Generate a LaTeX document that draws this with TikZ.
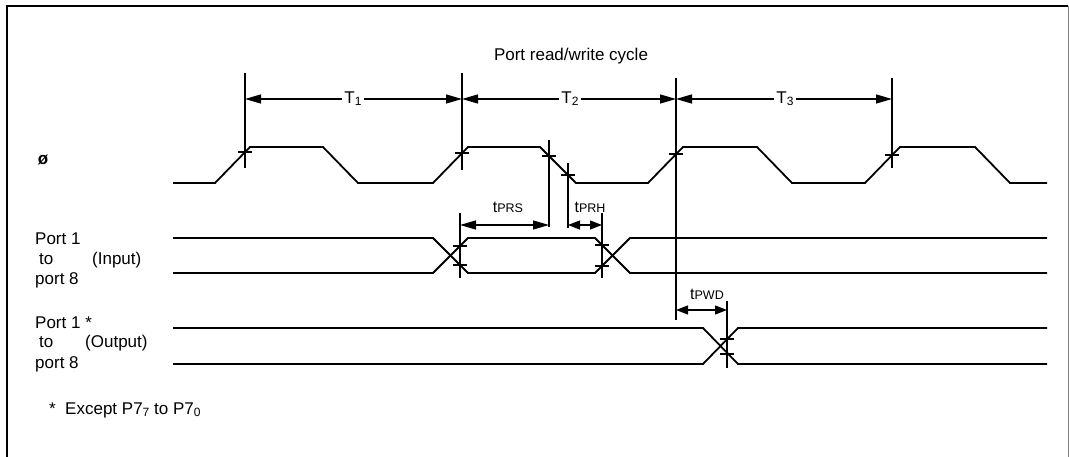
\documentclass[tikz,border=0pt]{standalone}
\usepackage{fontspec}
\setmainfont{Liberation Sans}
\usetikzlibrary{arrows.meta}
\newcommand\subsm[1]{\raisebox{-2pt}{\fontsize{12}{12}\selectfont #1}}
\newcommand\tsub[1]{t{\fontsize{12.5}{12}\selectfont #1}}
\begin{document}
\begin{tikzpicture}[x=1pt,y=-1pt,
  sig/.style={line width=1.8pt, line join=miter},
  vline/.style={line width=1.3pt},
  tickm/.style={line width=1.3pt},
  dim/.style={line width=1.3pt, {Triangle[length=16pt,width=9pt]}-{Triangle[length=16pt,width=9pt]}},
  dims/.style={line width=1.3pt, {Triangle[length=12pt,width=9pt]}-{Triangle[length=12pt,width=9pt]}},
  lbl/.style={font=\fontsize{17}{20}\selectfont, inner sep=0pt},
  tl/.style={font=\fontsize{16}{20}\selectfont, inner sep=0pt},
  tlab/.style={font=\fontsize{17}{20}\selectfont, fill=white, inner xsep=2pt, inner ysep=1pt}
  ]
\useasboundingbox (0,0) rectangle (1069,457);
% frame
\draw[line width=2.6pt] (7,460) -- (7,6) -- (1068,6);
\draw[gray, line width=1pt] (1068,6) -- (1068,460);

% title
\node[lbl] (title) at (571,56) {Port read/write cycle};

% clock
\draw[sig] (173,183) -- (215,183) -- (250,147) -- (323,147) -- (358,183)
  -- (433,183) -- (468,147) -- (540,147) -- (576,183) -- (648,183)
  -- (683,147) -- (757,147) -- (792,183) -- (865,183) -- (900,147)
  -- (975,147) -- (1010,183) -- (1047,183);

% input data
\draw[sig] (173,238) -- (433,238) -- (468,273) -- (595,273) -- (630,238) -- (1047,238);
\draw[sig] (173,273) -- (433,273) -- (468,238) -- (595,238) -- (630,273) -- (1047,273);

% output data
\draw[sig] (173,328) -- (703,328) -- (738,364) -- (1047,364);
\draw[sig] (173,364) -- (703,364) -- (738,328) -- (1047,328);

% vertical reference lines
\coordinate (v1t) at (245,73);  \coordinate (v1b) at (245,168);
\coordinate (v2t) at (462,73);  \coordinate (v2b) at (462,170);
\coordinate (v3t) at (676,78);  \coordinate (v3b) at (676,320);
\coordinate (v4t) at (892,78);  \coordinate (v4b) at (892,168);
\coordinate (v5t) at (549,140); \coordinate (v5b) at (549,227);
\coordinate (v6t) at (568,163); \coordinate (v6b) at (568,228);
\coordinate (v7t) at (460,213); \coordinate (v7b) at (460,278);
\coordinate (v8t) at (602,213); \coordinate (v8b) at (602,278);
\coordinate (v9t) at (727,301); \coordinate (v9b) at (727,368);
\foreach \i in {1,...,9} {\draw[vline] (v\i t) -- (v\i b);}

% cross ticks
\foreach \x/\y in {245/152, 462/153, 549/156, 568/175, 676/154, 892/155,
                   460/246, 460/265, 602/245, 602/266, 727/339, 727/354}
  {\draw[tickm] (\x-7,\y) -- (\x+7,\y);}

% T dimension arrows
\coordinate (a1) at (245,99); \coordinate (a2) at (462,99);
\coordinate (a3) at (676,99); \coordinate (a4) at (892,99);
\draw[dim] (a1) -- (a2);
\draw[dim] (a2) -- (a3);
\draw[dim] (a3) -- (a4);
\node[tlab] (T1) at (353,99) {T\subsm{1}};
\node[tlab] (T2) at (570,99) {T\subsm{2}};
\node[tlab] (T3) at (785,99) {T\subsm{3}};

% tPRS, tPRH, tPWD
\coordinate (p1) at (460,225); \coordinate (p2) at (549,225);
\coordinate (h1) at (568,225); \coordinate (h2) at (602,225);
\coordinate (w1) at (676,310); \coordinate (w2) at (727,310);
\draw[dim] (p1) -- (p2);
\draw[dims] (h1) -- (h2);
\draw[dims] (w1) -- (w2);
\node[tl] (tprs) at (508,207) {\tsub{PRS}};
\node[tl] (tprh) at (590,207) {\tsub{PRH}};
\node[tl] (tpwd) at (707,294) {\tsub{PWD}};

% left labels
\node[lbl, font=\fontsize{17}{20}\bfseries\selectfont] (phi) at (43,160) {ø};
\node[lbl, anchor=base west] (i1) at (35,245) {Port 1};
\node[lbl, anchor=base west] (i2) at (39,265) {to};
\node[lbl, anchor=base west] (i3) at (92,265) {(Input)};
\node[lbl, anchor=base west] (i4) at (35,285) {port 8};
\node[lbl, anchor=base west] (o1) at (35,328) {Port 1 *};
\node[lbl, anchor=base west] (o2) at (39,348) {to};
\node[lbl, anchor=base west] (o3) at (85,348) {(Output)};
\node[lbl, anchor=base west] (o4) at (35,368) {port 8};

% footnote
\node[lbl, anchor=base west] (fn) at (49,414) {*\ \ Except P7\subsm{7} to P7\subsm{0}};
\end{tikzpicture}
\end{document}
